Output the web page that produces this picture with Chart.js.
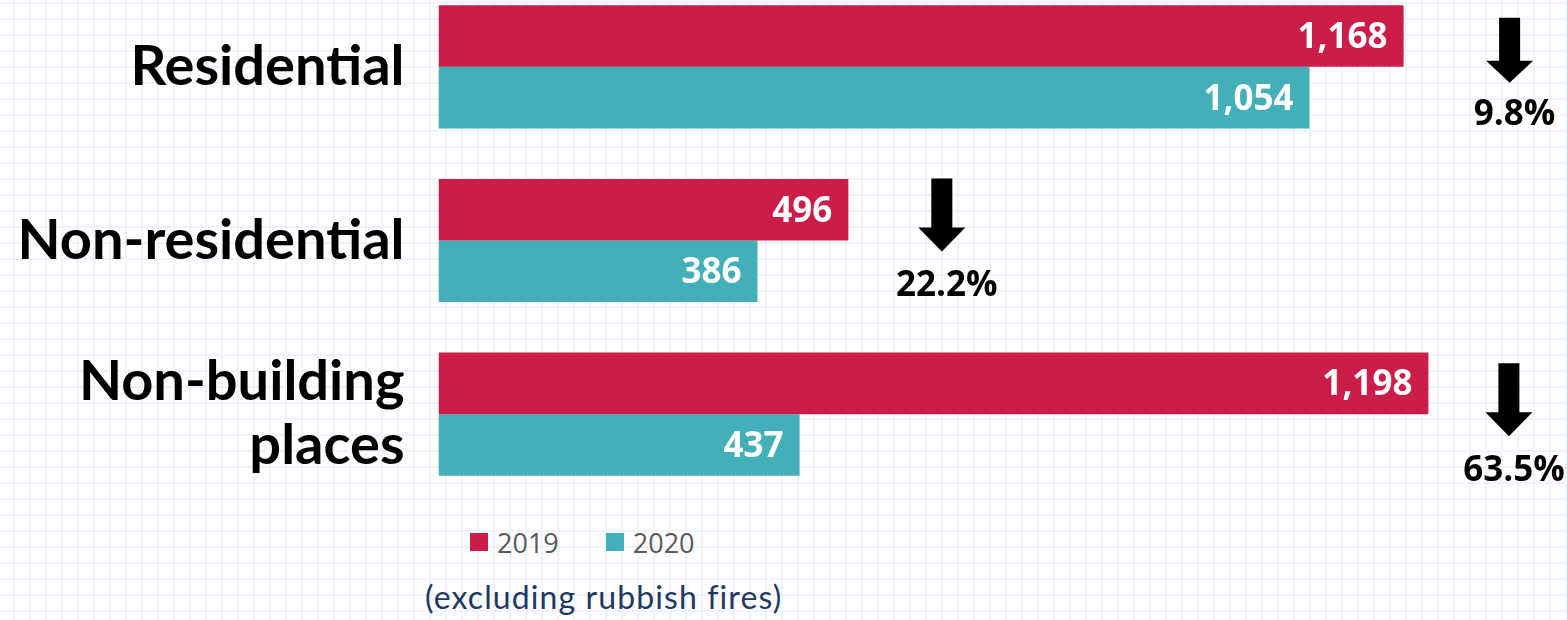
<!DOCTYPE html>
<html>
<head>
<meta charset="utf-8">
<script src="https://cdn.jsdelivr.net/npm/chart.js@4/dist/chart.umd.min.js"></script>
<style>
html,body{margin:0;padding:0;}
body{width:1567px;height:620px;overflow:hidden;position:relative;background-color:#fff;
background-image:linear-gradient(to right,#eff3fb 0,#eff3fb 2px,transparent 2px),linear-gradient(to bottom,#eff3fb 0,#eff3fb 2px,transparent 2px);
background-size:16px 16px;background-position:13px 2px;}
#wrap{position:absolute;left:0;top:-20px;width:1567px;height:521px;}
#legend{position:absolute;left:470px;top:527px;height:30px;display:flex;align-items:center;font-family:"Open Sans",sans-serif;font-size:27px;color:#595959;}
#legend .item{display:flex;align-items:center;margin-right:47px;}
#legend .box{width:18px;height:18px;margin-right:9px;}
#note{position:absolute;left:425px;top:578px;font-family:Lato,sans-serif;font-size:32px;letter-spacing:1.1px;line-height:38px;color:#1F3864;white-space:nowrap;}
</style>
</head>
<body>
<div id="wrap"><canvas id="c"></canvas></div>
<div id="legend"></div>
<div id="note">(excluding rubbish fires)</div>
<script>
const categories = [['Residential'], ['Non-residential'], ['Non-building', 'places']];
const seriesNames = ['2019', '2020'];
const values2019 = [1168, 496, 1198];
const values2020 = [1054, 386, 437];
const changeLabels = ['9.8%', '22.2%', '63.5%'];
const colors = ['#CB1C4A', '#43AFB8'];

// annotation layout (pixels, relative to the 2019 bar end and category centre)
const annotLayout = [
  {dx: 106, top: -49, shaft: 43, head: 22, textDy: 46},
  {dx: 93.5, top: -62, shaft: 49, head: 24, textDy: 44},
  {dx: 80.5, top: -51, shaft: 49, head: 24, textDy: 55}
];

const overlay = {
  id: 'overlay',
  afterDatasetsDraw(chart) {
    const ctx = chart.ctx;
    ctx.save();
    chart.data.datasets.forEach((ds, i) => {
      const meta = chart.getDatasetMeta(i);
      meta.data.forEach((bar, j) => {
        ctx.font = 'bold 35px "Open Sans"';
        ctx.fillStyle = '#ffffff';
        ctx.textAlign = 'right';
        ctx.textBaseline = 'middle';
        ctx.fillText(ds.data[j].toLocaleString('en-US'), bar.x - 16, bar.y + 2);
      });
    });
    const meta0 = chart.getDatasetMeta(0);
    const yScale = chart.scales.y;
    changeLabels.forEach((lab, j) => {
      const L = annotLayout[j];
      const cx = meta0.data[j].x + L.dx;
      const cy = yScale.getPixelForValue(j);
      const top = cy + L.top;
      const sw = 10.5, hw = 23.5;
      ctx.fillStyle = '#000';
      ctx.beginPath();
      ctx.moveTo(cx - sw, top);
      ctx.lineTo(cx + sw, top);
      ctx.lineTo(cx + sw, top + L.shaft);
      ctx.lineTo(cx + hw, top + L.shaft);
      ctx.lineTo(cx, top + L.shaft + L.head);
      ctx.lineTo(cx - hw, top + L.shaft);
      ctx.lineTo(cx - sw, top + L.shaft);
      ctx.closePath();
      ctx.fill();
      ctx.font = 'bold 35px "Open Sans"';
      ctx.textAlign = 'center';
      ctx.textBaseline = 'middle';
      ctx.fillText(lab, cx + 5, cy + L.textDy + 2);
    });
    ctx.restore();
  }
};

const chart = new Chart(document.getElementById('c'), {
  type: 'bar',
  data: {
    labels: categories,
    datasets: [
      {label: seriesNames[0], data: values2019, backgroundColor: colors[0]},
      {label: seriesNames[1], data: values2020, backgroundColor: colors[1]}
    ]
  },
  options: {
    indexAxis: 'y',
    responsive: true,
    maintainAspectRatio: false,
    animation: false,
    layout: {padding: {left: 0, right: 13, top: 0, bottom: 0}},
    datasets: {bar: {categoryPercentage: 0.709, barPercentage: 1}},
    plugins: {legend: {display: false}, tooltip: {enabled: false}},
    scales: {
      x: {display: false, min: 0, max: 1350},
      y: {
        grid: {display: false, drawTicks: false},
        border: {display: false},
        afterFit(scale) {
          scale.width = 438.5;
          scale.paddingTop = 0;
          scale.paddingBottom = 0;
        },
        ticks: {
          padding: 34,
          color: '#000',
          font: {family: 'Lato', size: 56, weight: 'bold', lineHeight: 1.15}
        }
      }
    }
  },
  plugins: [overlay]
});

const legend = document.getElementById('legend');
chart.data.datasets.forEach(ds => {
  const it = document.createElement('div');
  it.className = 'item';
  const b = document.createElement('span');
  b.className = 'box';
  b.style.background = ds.backgroundColor;
  const t = document.createElement('span');
  t.textContent = ds.label;
  it.appendChild(b); it.appendChild(t);
  legend.appendChild(it);
});
</script>
</body>
</html>
